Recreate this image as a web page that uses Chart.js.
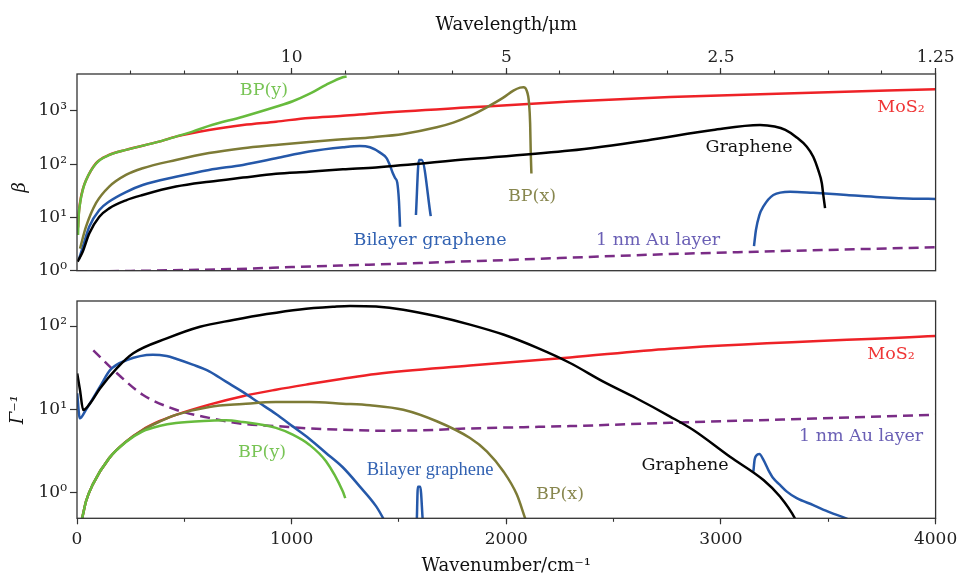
<!DOCTYPE html>
<html>
<head>
<meta charset="utf-8">
<script src="https://cdn.jsdelivr.net/npm/chart.js@4.4.1/dist/chart.umd.min.js"></script>
<style>
html,body{margin:0;padding:0;background:#fff;}
#wrap{position:relative;width:959px;height:576px;}
canvas{position:absolute;left:0;top:0;}
</style>
</head>
<body>
<div id="wrap">
<canvas id="c1" width="959" height="576"></canvas>
<canvas id="c2" width="959" height="576"></canvas>
</div>
<script>
// ---------- Top panel: beta vs wavenumber (cm^-1) ----------
const mos2BetaW = [5, 7, 15, 28, 42, 89, 149, 228, 382, 461, 615, 773, 927, 1081, 1239, 1393, 1831, 2297, 2763, 3300, 4000];
const mos2Beta  = [6.5, 10, 20, 35, 50, 105, 149, 186, 265, 330, 440, 545, 630, 740, 810, 910, 1170, 1500, 1820, 2120, 2560];

const bpyBetaW = [5, 7, 15, 28, 42, 89, 149, 228, 382, 461, 538, 615, 773, 927, 1005, 1082, 1160, 1238, 1256];
const bpyBeta  = [4.7, 9, 19, 34, 50, 103, 148, 186, 265, 330, 410, 525, 780, 1200, 1520, 2090, 3090, 4300, 4450];

const bpxBetaW = [14, 42, 89, 150, 228, 306, 461, 615, 773, 927, 1081, 1239, 1380, 1520, 1676, 1753, 1831, 1909, 1986, 2033, 2064, 2080, 2095, 2106, 2111, 2114, 2117];
const bpxBeta  = [2.6, 6.7, 18.7, 38, 63, 84, 120, 162, 200, 230, 262, 293, 322, 370, 494, 604, 806, 1172, 1779, 2409, 2743, 2786, 2409, 1393, 587, 160, 67];

const bilayerBetaW = [8, 27, 57, 104, 150, 228, 306, 461, 615, 773, 927, 1081, 1239, 1318, 1365, 1412, 1443, 1458, 1470, 1482, 1492, 1500, 1505,
                      null, 1579, 1593, 1606, 1648,
                      null, 3154, 3163, 3179, 3197, 3244, 3322, 3430, 3586, 3741, 3896, 4000];
const bilayerBeta  = [1.6, 2.8, 6.7, 13.8, 19.9, 30, 40.7, 58, 78, 97, 129, 173, 208, 220, 208, 165, 129, 95, 70, 55, 45, 20, 6.7,
                      null, 11.1, 120, 120, 10.6,
                      null, 2.9, 5.8, 11.1, 15.9, 26.4, 30.5, 29, 26.4, 24, 22.5, 22.3];

const grapheneBetaW = [3, 27, 57, 104, 150, 228, 306, 461, 615, 773, 927, 1081, 1239, 1393, 1831, 2297, 2654, 2963, 3182, 3250, 3300, 3353, 3400, 3430, 3453, 3470, 3477, 3485];
const grapheneBeta  = [1.48, 2.3, 5.0, 10.3, 14.8, 21, 26.4, 38, 47, 56, 66, 72, 80, 87, 125, 180, 280, 440, 545, 510, 440, 318, 213, 138, 78, 44, 26, 15];

const auBetaW = [0, 250, 500, 750, 1000, 1360, 1870, 2760, 3120, 4000];
const auBeta  = [0.97, 0.99, 1.03, 1.08, 1.17, 1.3, 1.52, 2.05, 2.25, 2.75];

// ---------- Bottom panel: Gamma^-1 vs wavenumber ----------
const mos2GamW = [20, 26, 42, 73, 150, 228, 306, 383, 461, 616, 772, 927, 1082, 1238, 1393, 1831, 2297, 2763, 4000];
const mos2Gam  = [0.45, 0.52, 0.79, 1.25, 2.6, 4.1, 5.7, 7.2, 8.6, 11.4, 14.4, 17.2, 20.1, 23.3, 26.6, 33.5, 42, 53.4, 76];

const bpyGamW = [20, 26, 42, 73, 150, 228, 306, 383, 461, 616, 694, 772, 927, 1005, 1082, 1160, 1238, 1250];
const bpyGam  = [0.45, 0.52, 0.79, 1.25, 2.6, 4.05, 5.45, 6.3, 6.86, 7.3, 7.4, 7.05, 6.0, 4.97, 3.77, 2.38, 1.04, 0.86];

const bpxGamW = [20, 26, 42, 73, 150, 228, 306, 383, 461, 616, 772, 927, 1082, 1238, 1365, 1520, 1676, 1831, 1909, 1986, 2049, 2087, 2100];
const bpxGam  = [0.45, 0.52, 0.79, 1.25, 2.6, 4.1, 5.65, 7.1, 8.6, 10.7, 11.6, 12.25, 12.25, 11.7, 11.2, 9.9, 7.2, 4.53, 3.14, 1.81, 0.95, 0.5, 0.4];

const bilayerGamW = [1, 13, 41, 107, 154, 232, 353, 418, 461, 539, 616, 694, 772, 850, 927, 1005, 1082, 1160, 1238, 1316, 1393, 1427, 1440,
                     null, 1583, 1588, 1599, 1611,
                     null, 3151, 3157, 3165, 3179, 3198, 3221, 3244, 3275, 3307, 3353, 3430, 3508, 3586, 3600];
const bilayerGam  = [15.6, 7.8, 9.8, 18.7, 29.6, 39, 45.3, 43.6, 40.5, 34.4, 28.6, 21.5, 16.2, 11.9, 8.8, 6.25, 4.45, 3.0, 2.02, 1.2, 0.69, 0.49, 0.42,
                     null, 0.45, 1.18, 1.18, 0.45,
                     null, 1.79, 2.5, 2.8, 2.91, 2.47, 1.87, 1.49, 1.24, 1.03, 0.86, 0.71, 0.58, 0.49, 0.47];

const grapheneGamW = [1, 14, 29, 61, 107, 185, 262, 418, 573, 728, 884, 1039, 1194, 1272, 1393, 1520, 1676, 1831, 1986, 2142, 2297, 2452, 2608, 2763, 2871, 3042, 3198, 3275, 3345, 3360];
const grapheneGam  = [27, 17, 9.8, 11.8, 17.8, 31, 47, 71, 98, 118, 139, 158, 170, 174, 171, 157, 131, 104, 79, 55, 36, 21.5, 13.5, 8.2, 5.65, 2.7, 1.42, 0.9, 0.49, 0.4];

const auGamW = [76, 185, 306, 461, 616, 772, 927, 1082, 1238, 1393, 1600, 1831, 2297, 2763, 3400, 4000];
const auGam  = [51, 27.3, 15, 9.9, 7.9, 6.7, 6.3, 5.9, 5.7, 5.55, 5.6, 5.9, 6.3, 6.9, 7.7, 8.6];

// ---------- Axis ticks ----------
const wavelengthTickValues = [1000, 2000, 3000, 4000];
const wavelengthTickLabels = ['10', '5', '2.5', '1.25'];
const wavenumberTickValues = [0, 1000, 2000, 3000, 4000];
const betaTickValues = [1, 10, 100, 1000];
const gammaTickValues = [1, 10, 100];

// ---------- helpers ----------
function pts(ws, vs) { return ws.map((w, i) => (w === null ? {x: NaN, y: null} : {x: w, y: vs[i]})); }
const SUP = {'-1': '\u207B\u00B9', '0': '\u2070', '1': '\u00B9', '2': '\u00B2', '3': '\u00B3'};
const SERIF = '"DejaVu Serif", "Liberation Serif", serif';
const COL = {mos2: '#ee2227', bpy: '#67bb3d', bpx: '#7d7b36', bilayer: '#2558a9', graphene: '#000000', au: '#7a2c86'};

function line(label, data, color, dashed) {
  return {label, data, borderColor: color, backgroundColor: color, borderWidth: 2.5, pointRadius: 0,
          fill: false, spanGaps: false, cubicInterpolationMode: 'monotone', clip: 0,
          borderDash: dashed ? [10, 6] : []};
}

const framePlugin = {
  id: 'frame',
  afterDraw(chart, args, opts) {
    const {ctx, chartArea: a} = chart;
    ctx.save();
    ctx.strokeStyle = '#333';
    ctx.lineWidth = 1.3;
    ctx.strokeRect(a.left, a.top, a.right - a.left, a.bottom - a.top);
    const xs = chart.scales.x, ys = chart.scales.y;
    (opts.labels || []).forEach(l => {
      ctx.font = l.font || ('17.5px ' + SERIF);
      ctx.fillStyle = l.color;
      ctx.textAlign = 'center';
      ctx.textBaseline = 'middle';
      ctx.fillText(l.text, xs.getPixelForValue(l.w), ys.getPixelForValue(l.v));
    });
    if (opts.sideTitle) {
      const t = opts.sideTitle;
      ctx.translate(t.x, (a.top + a.bottom) / 2 + t.dy);
      ctx.rotate(-Math.PI / 2);
      ctx.font = 'italic 18px ' + SERIF;
      ctx.fillStyle = '#111';
      ctx.textAlign = 'center';
      ctx.textBaseline = 'middle';
      ctx.fillText(t.text, 0, 0);
    }
    ctx.restore();
  }
};

const tickFont = {family: SERIF, size: 17};
const tickColor = '#222';

function yAxis(min, max, values, extra) {
  return Object.assign({
    type: 'logarithmic', position: 'left', min, max,
    afterBuildTicks: s => { s.ticks = values.map(v => ({value: v})); },
    ticks: {callback: v => '10' + SUP[String(Math.round(Math.log10(v)))], font: tickFont, color: tickColor, padding: 3, autoSkip: false},
    grid: {drawOnChartArea: false, tickLength: 7, tickColor: '#333', tickWidth: 1.2},
    border: {display: false},
    afterFit: s => { s.width = 77; s.paddingTop = 0; s.paddingBottom = 0; }
  }, extra || {});
}

function noPad(s) { s.paddingLeft = 0; s.paddingRight = 0; }

// ---------- Top chart ----------
new Chart(document.getElementById('c1'), {
  type: 'line',
  data: {
    datasets: [
      line('BP(y)', pts(bpyBetaW, bpyBeta), COL.bpy),
      line('Graphene', pts(grapheneBetaW, grapheneBeta), COL.graphene),
      line('BP(x)', pts(bpxBetaW, bpxBeta), COL.bpx),
      line('Bilayer graphene', pts(bilayerBetaW, bilayerBeta), COL.bilayer),
      line('MoS2', pts(mos2BetaW, mos2Beta), COL.mos2),
      line('1 nm Au layer', pts(auBetaW, auBeta), COL.au, true)
    ]
  },
  options: {
    responsive: false, animation: false, devicePixelRatio: 1,
    layout: {padding: {left: 0, right: 23.4, top: 0, bottom: 305.3}},
    plugins: {
      legend: {display: false}, tooltip: {enabled: false},
      frame: {
        labels: [
          {text: 'BP(y)', w: 871, v: 2470, color: '#78c455'},
          {text: 'MoS\u2082', w: 3839, v: 1140, color: '#ef3535'},
          {text: 'Graphene', w: 3131, v: 202, color: '#111'},
          {text: 'BP(x)', w: 2120, v: 25.3, color: '#88874f'},
          {text: 'Bilayer graphene', w: 1645, v: 3.77, color: '#3262b2'},
          {text: '1 nm Au layer', w: 2707, v: 3.77, color: '#6a5fb5'}
        ],
        sideTitle: {text: '\u03B2', x: 20, dy: 15}
      }
    },
    scales: {
      x: {
        type: 'linear', position: 'top', min: 0, max: 4000, weight: 1,
        afterBuildTicks: s => { s.ticks = wavelengthTickValues.map(v => ({value: v})); },
        ticks: {callback: (v) => wavelengthTickLabels[wavelengthTickValues.indexOf(v)], font: tickFont, color: tickColor, padding: 0, maxRotation: 0, autoSkip: false},
        grid: {drawOnChartArea: false, tickLength: 6, tickColor: '#333', tickWidth: 1.2},
        border: {display: false},
        title: {display: true, text: 'Wavelength/\u03BCm', font: {family: SERIF, size: 18}, color: '#111', padding: {top: 15, bottom: 0}},
        afterFit: s => { s.height = 74; noPad(s); }
      },
      xMinor: {
        type: 'linear', position: 'top', min: 0, max: 4000, weight: 0,
        afterBuildTicks: s => { const t = []; for (let v = 250; v <= 4000; v += 250) t.push({value: v}); s.ticks = t; },
        ticks: {display: false},
        grid: {drawOnChartArea: false, tickLength: 3.5, tickColor: '#333', tickWidth: 1.1},
        border: {display: false},
        afterFit: s => { s.height = 0; noPad(s); }
      },
      y: yAxis(1, Math.pow(10, 3.694), betaTickValues)
    }
  },
  plugins: [framePlugin]
});

// ---------- Bottom chart ----------
new Chart(document.getElementById('c2'), {
  type: 'line',
  data: {
    datasets: [
      line('BP(y)', pts(bpyGamW, bpyGam), COL.bpy),
      line('Graphene', pts(grapheneGamW, grapheneGam), COL.graphene),
      line('BP(x)', pts(bpxGamW, bpxGam), COL.bpx),
      line('Bilayer graphene', pts(bilayerGamW, bilayerGam), COL.bilayer),
      line('MoS2', pts(mos2GamW, mos2Gam), COL.mos2),
      line('1 nm Au layer', pts(auGamW, auGam), COL.au, true)
    ]
  },
  options: {
    responsive: false, animation: false, devicePixelRatio: 1,
    layout: {padding: {left: 0, right: 23.4, top: 301, bottom: 0}},
    plugins: {
      legend: {display: false}, tooltip: {enabled: false},
      frame: {
        labels: [
          {text: 'MoS\u2082', w: 3792, v: 46.1, color: '#ef3535'},
          {text: '1 nm Au layer', w: 3653, v: 4.79, color: '#6a5fb5'},
          {text: 'Graphene', w: 2833, v: 2.15, color: '#111'},
          {text: 'BP(x)', w: 2250, v: 0.965, color: '#88874f'},
          {text: 'Bilayer graphene', w: 1645, v: 1.87, color: '#3262b2', font: '18.5px "Liberation Serif", serif'},
          {text: 'BP(y)', w: 862, v: 3.0, color: '#78c455'}
        ]
      }
    },
    scales: {
      x: {
        type: 'linear', position: 'bottom', min: 0, max: 4000, weight: 1,
        afterBuildTicks: s => { s.ticks = wavenumberTickValues.map(v => ({value: v})); },
        ticks: {callback: v => String(v), font: tickFont, color: tickColor, padding: 5, maxRotation: 0, autoSkip: false},
        grid: {drawOnChartArea: false, tickLength: 6, tickColor: '#333', tickWidth: 1.2},
        border: {display: false},
        title: {display: true, text: 'Wavenumber/cm\u207B\u00B9', font: {family: SERIF, size: 18, lineHeight: 1}, color: '#111', padding: {top: 0, bottom: 1}},
        afterFit: s => { s.height = 57.7; noPad(s); }
      },
      xMinor: {
        type: 'linear', position: 'bottom', min: 0, max: 4000, weight: 0,
        afterBuildTicks: s => { const t = []; for (let v = 500; v <= 4000; v += 500) t.push({value: v}); s.ticks = t; },
        ticks: {display: false},
        grid: {drawOnChartArea: false, tickLength: 3.5, tickColor: '#333', tickWidth: 1.1},
        border: {display: false},
        afterFit: s => { s.height = 0; noPad(s); }
      },
      y: yAxis(Math.pow(10, -0.307), Math.pow(10, 2.30), gammaTickValues, {
        title: {display: true, text: '\u0393\u207B\u00B9', font: {family: SERIF, size: 18, style: 'italic'}, color: '#111', padding: {top: 8, bottom: 0}}
      })
    }
  },
  plugins: [framePlugin]
});
</script>
</body>
</html>
